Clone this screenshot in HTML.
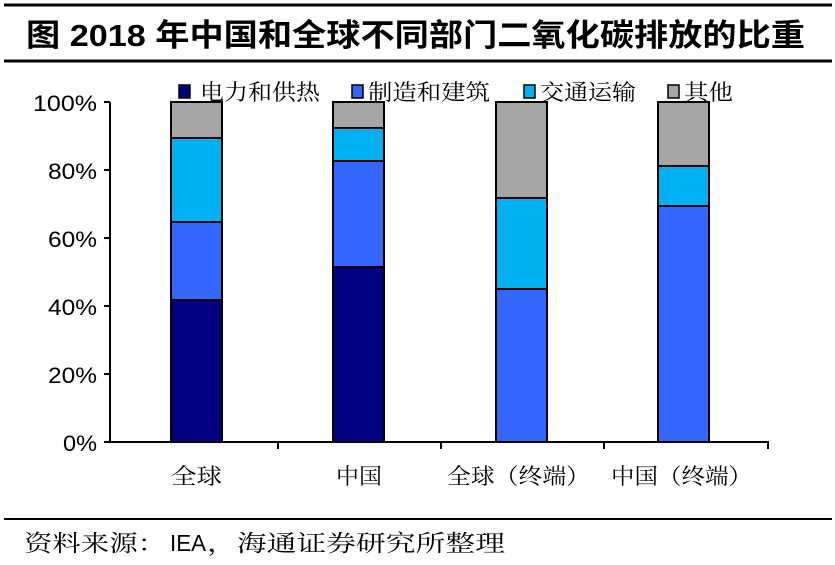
<!DOCTYPE html>
<html><head><meta charset="utf-8"><style>
body{margin:0;background:#fff;}
svg text{font-family:"Liberation Sans","Noto Sans CJK SC",sans-serif;}
svg .s{font-family:"Liberation Serif","Noto Serif CJK SC",serif;}
</style></head><body>
<svg width="835" height="560" viewBox="0 0 835 560" xmlns="http://www.w3.org/2000/svg">
<rect width="835" height="560" fill="#fff"/>
<line x1="4" y1="5" x2="832" y2="5" stroke="#000" stroke-width="3"/>
<line x1="4" y1="61" x2="832" y2="61" stroke="#000" stroke-width="3"/>
<line x1="4" y1="519" x2="832" y2="519" stroke="#000" stroke-width="2"/>
<text x="26" y="46" font-size="31" font-weight="bold" textLength="779" lengthAdjust="spacingAndGlyphs">图  2018 年中国和全球不同部门二氧化碳排放的比重</text>
<text class="s" x="24" y="551" font-size="23" textLength="142" lengthAdjust="spacingAndGlyphs">资料来源：</text>
<text x="170" y="551" font-size="23" textLength="36" lengthAdjust="spacingAndGlyphs">IEA</text>
<text class="s" x="207" y="551" font-size="23" textLength="298" lengthAdjust="spacingAndGlyphs">，海通证券研究所整理</text>
<!-- legend -->
<g font-size="22" class="s">
<rect x="179" y="85" width="11" height="13" fill="#000080" stroke="#000" stroke-width="1.5"/><text class="s" x="200" y="100" textLength="120" lengthAdjust="spacingAndGlyphs">电力和供热</text>
<rect x="352" y="85" width="11" height="13" fill="#3366ff" stroke="#000" stroke-width="1.5"/><text class="s" x="368" y="100" textLength="122" lengthAdjust="spacingAndGlyphs">制造和建筑</text>
<rect x="524" y="85" width="11" height="13" fill="#00b0f0" stroke="#000" stroke-width="1.5"/><text class="s" x="540" y="100" textLength="96" lengthAdjust="spacingAndGlyphs">交通运输</text>
<rect x="668" y="85" width="11" height="13" fill="#a6a6a6" stroke="#000" stroke-width="1.5"/><text class="s" x="684" y="100" textLength="49" lengthAdjust="spacingAndGlyphs">其他</text>
</g>
<!-- y axis -->
<g font-size="22" text-anchor="end">
<text x="97" y="111" textLength="64" lengthAdjust="spacingAndGlyphs">100%</text><text x="97" y="179" textLength="49" lengthAdjust="spacingAndGlyphs">80%</text><text x="97" y="247" textLength="49" lengthAdjust="spacingAndGlyphs">60%</text>
<text x="97" y="315" textLength="49" lengthAdjust="spacingAndGlyphs">40%</text><text x="97" y="383" textLength="49" lengthAdjust="spacingAndGlyphs">20%</text><text x="97" y="451" textLength="34" lengthAdjust="spacingAndGlyphs">0%</text>
</g>
<g stroke="#000" stroke-width="2">
<line x1="110" y1="102" x2="110" y2="443"/>
<line x1="104" y1="102" x2="110" y2="102"/><line x1="104" y1="170" x2="110" y2="170"/>
<line x1="104" y1="238" x2="110" y2="238"/><line x1="104" y1="306" x2="110" y2="306"/>
<line x1="104" y1="374" x2="110" y2="374"/><line x1="104" y1="442" x2="110" y2="442"/>
<line x1="109" y1="442" x2="769" y2="442"/>
<line x1="278" y1="442" x2="278" y2="449"/><line x1="441" y1="442" x2="441" y2="449"/>
<line x1="604" y1="442" x2="604" y2="449"/><line x1="768" y1="442" x2="768" y2="449"/>
</g>
<!-- bars -->
<g stroke="#000" stroke-width="2">
<rect x="171" y="300" width="51" height="142" fill="#000080"/>
<rect x="171" y="222" width="51" height="78" fill="#3366ff"/>
<rect x="171" y="138" width="51" height="84" fill="#00b0f0"/>
<rect x="171" y="102" width="51" height="36" fill="#a6a6a6"/>

<rect x="333" y="267" width="51" height="175" fill="#000080"/>
<rect x="333" y="161" width="51" height="106" fill="#3366ff"/>
<rect x="333" y="128" width="51" height="33" fill="#00b0f0"/>
<rect x="333" y="102" width="51" height="26" fill="#a6a6a6"/>

<rect x="496" y="289" width="51" height="153" fill="#3366ff"/>
<rect x="496" y="198" width="51" height="91" fill="#00b0f0"/>
<rect x="496" y="102" width="51" height="96" fill="#a6a6a6"/>

<rect x="658" y="206" width="51" height="236" fill="#3366ff"/>
<rect x="658" y="166" width="51" height="40" fill="#00b0f0"/>
<rect x="658" y="102" width="51" height="64" fill="#a6a6a6"/>
</g>
<g font-size="22">
<text class="s" x="171" y="484" textLength="51" lengthAdjust="spacingAndGlyphs">全球</text>
<text class="s" x="336" y="484" textLength="46" lengthAdjust="spacingAndGlyphs">中国</text>
<text class="s" x="447" y="484" textLength="143" lengthAdjust="spacingAndGlyphs">全球（终端）</text>
<text class="s" x="611" y="484" textLength="141" lengthAdjust="spacingAndGlyphs">中国（终端）</text>
</g>
</svg>
</body></html>
